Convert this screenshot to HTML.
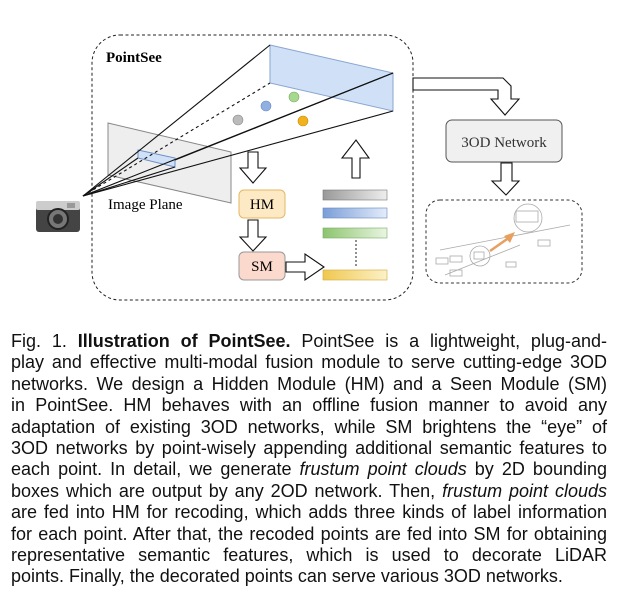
<!DOCTYPE html>
<html><head><meta charset="utf-8"><style>
html,body{margin:0;padding:0;background:#fff;width:634px;height:601px;overflow:hidden;}
svg{position:absolute;left:0;top:0;}
.cap{position:absolute;left:11px;top:331px;width:596px;font-family:"Liberation Sans",Arial,sans-serif;font-size:18px;line-height:21.4px;color:#111;letter-spacing:0px;}
.cap div{text-align:justify;text-align-last:justify;white-space:nowrap;}
.cap div.last{text-align-last:left;}
</style></head><body>
<svg width="634" height="320" viewBox="0 0 634 320" xmlns="http://www.w3.org/2000/svg">
<defs>
<linearGradient id="gg" x1="0" x2="1"><stop offset="0" stop-color="#999"/><stop offset="1" stop-color="#eee"/></linearGradient>
<linearGradient id="gb" x1="0" x2="1"><stop offset="0" stop-color="#7a9ed8"/><stop offset="1" stop-color="#e4ecfa"/></linearGradient>
<linearGradient id="ggr" x1="0" x2="1"><stop offset="0" stop-color="#8cc46e"/><stop offset="1" stop-color="#eaf5e2"/></linearGradient>
<linearGradient id="gy" x1="0" x2="1"><stop offset="0" stop-color="#f0c850"/><stop offset="1" stop-color="#fcf1c8"/></linearGradient>
</defs>
<rect x="92" y="35" width="321" height="265" rx="28" fill="none" stroke="#222" stroke-dasharray="3,2.5"/>
<text x="106" y="62" font-family="Liberation Serif,serif" font-weight="bold" font-size="15">PointSee</text>
<polygon points="108,123 231,152 231,203 108,175" fill="#eee" stroke="#888" stroke-width="1"/>
<text x="108" y="209" font-family="Liberation Serif,serif" font-size="15">Image Plane</text>
<polygon points="270,45 393,73 393,111 270,83" fill="#cfe0f7" stroke="#8aa6d0"/>
<polygon points="138,150 175,158 175,167 138,158" fill="#cfe0f7" stroke="#6f8fc4"/>
<g stroke="#111" stroke-width="1.1" fill="none">
<line x1="83" y1="196" x2="270" y2="45"/>
<line x1="83" y1="196" x2="393" y2="73"/>
<line x1="83" y1="196" x2="393" y2="111"/>
<line x1="175" y1="160" x2="393" y2="73"/>
<line x1="83" y1="196" x2="138" y2="158"/>
<line x1="83" y1="196" x2="175" y2="167"/>
<line x1="83" y1="196" x2="270" y2="83" stroke-dasharray="3,3"/>
</g>
<circle cx="238" cy="120" r="5" fill="#bbb" stroke="#888" stroke-width=".6"/>
<circle cx="266" cy="106" r="5" fill="#90b0e4" stroke="#6688bb" stroke-width=".6"/>
<circle cx="294" cy="97" r="5" fill="#a6d88e" stroke="#77aa66" stroke-width=".6"/>
<circle cx="303" cy="121" r="5" fill="#f2b21c" stroke="#c88a10" stroke-width=".6"/>
<g fill="#fff" stroke="#111" stroke-width="1.1">
<polygon points="248,152 258,152 258,168 266,168 253,183 240,168 248,168"/>
<polygon points="248,220 258,220 258,237 266,237 253,251 240,237 248,237"/>
<polygon points="286,262 305,262 305,254 324,267 305,280 305,272 286,272"/>
<polygon points="352,178 360,178 360,158 369,158 356,140 342,158 352,158"/>
<polygon points="413,78 503,78 511,86 511,99 519,99 505,115 491,99 498,99 498,90 413,90"/>
<polygon points="501,163 512,163 512,181 519,181 506,195 492,181 501,181"/>
</g>
<rect x="239" y="190" width="46" height="28" rx="5" fill="#fde9c4" stroke="#e3b866"/>
<text x="262" y="209" text-anchor="middle" font-family="Liberation Serif,serif" font-size="15">HM</text>
<rect x="239" y="252" width="46" height="28" rx="5" fill="#fbd9cc" stroke="#999"/>
<text x="262" y="271" text-anchor="middle" font-family="Liberation Serif,serif" font-size="15">SM</text>
<rect x="323" y="190" width="64" height="10" fill="url(#gg)" stroke="#777" stroke-width=".6"/>
<rect x="323" y="208" width="64" height="10" fill="url(#gb)" stroke="#6688bb" stroke-width=".6"/>
<rect x="323" y="228" width="64" height="10" fill="url(#ggr)" stroke="#77aa66" stroke-width=".6"/>
<rect x="323" y="270" width="64" height="10" fill="url(#gy)" stroke="#d0a840" stroke-width=".6"/>
<line x1="356" y1="240" x2="356" y2="268" stroke="#222" stroke-dasharray="2,2"/>
<rect x="36" y="205" width="44" height="27" rx="3" fill="#444"/>
<rect x="36" y="201" width="44" height="9" rx="2" fill="#ccc"/>
<circle cx="58" cy="219" r="10" fill="#777" stroke="#222" stroke-width="2"/>
<circle cx="58" cy="219" r="5" fill="#333"/>
<rect x="67" y="203" width="8" height="5" fill="#999"/>
<rect x="446" y="120" width="116" height="42" rx="6" fill="#f0f0f0" stroke="#555"/>
<text x="504" y="147" text-anchor="middle" font-family="Liberation Serif,serif" font-size="15" fill="#333">3OD Network</text>
<rect x="426" y="200" width="156" height="83" rx="14" fill="none" stroke="#333" stroke-dasharray="3,2.5"/>
<g stroke="#aaa" fill="none" stroke-width=".8">
<circle cx="528" cy="218" r="14"/>
<rect x="516" y="211" width="22" height="11"/>
<circle cx="480" cy="256" r="10"/>
<rect x="474" y="252" width="10" height="7"/>
<rect x="436" y="258" width="12" height="6"/>
<rect x="450" y="256" width="12" height="6"/>
<rect x="506" y="262" width="10" height="5"/>
<rect x="538" y="240" width="12" height="6"/>
<rect x="450" y="270" width="12" height="6"/>
<line x1="440" y1="250" x2="570" y2="225"/>
<line x1="445" y1="275" x2="520" y2="245"/>
</g>
<line x1="490" y1="251" x2="510" y2="237" stroke="#e8a060" stroke-width="2.5"/>
<polygon points="515,232 504,236 510,243" fill="#e8a060"/>
</svg>
<div class="cap">
<div>Fig. 1. <b>Illustration of PointSee.</b> PointSee is a lightweight, plug-and-</div>
<div>play and effective multi-modal fusion module to serve cutting-edge 3OD</div>
<div>networks. We design a Hidden Module (HM) and a Seen Module (SM)</div>
<div>in PointSee. HM behaves with an offline fusion manner to avoid any</div>
<div>adaptation of existing 3OD networks, while SM brightens the “eye” of</div>
<div>3OD networks by point-wisely appending additional semantic features to</div>
<div>each point. In detail, we generate <i>frustum point clouds</i> by 2D bounding</div>
<div>boxes which are output by any 2OD network. Then, <i>frustum point clouds</i></div>
<div>are fed into HM for recoding, which adds three kinds of label information</div>
<div>for each point. After that, the recoded points are fed into SM for obtaining</div>
<div>representative semantic features, which is used to decorate LiDAR</div>
<div class="last">points. Finally, the decorated points can serve various 3OD networks.</div>
</div>
</body></html>
